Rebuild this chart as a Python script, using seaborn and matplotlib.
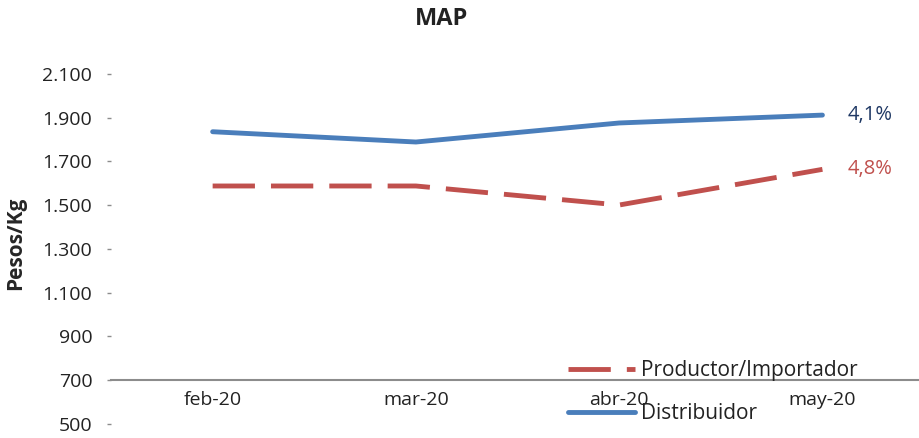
import matplotlib
matplotlib.use('Agg')
import matplotlib.pyplot as plt
import matplotlib.ticker as mticker
import seaborn as sns
import pandas as pd

meses = ['feb-20', 'mar-20', 'abr-20', 'may-20']
productor = [1587, 1587, 1500, 1663]
distribuidor = [1835, 1788, 1875, 1911]
series = ['Productor/Importador', 'Distribuidor']
variaciones = ['4,8%', '4,1%']
y_ticks = [500, 700, 900, 1100, 1300, 1500, 1700, 1900, 2100]

colors = {'Productor/Importador': '#C0504D', 'Distribuidor': '#4A7EBB'}
label_colors = {'Productor/Importador': '#C0504D', 'Distribuidor': '#1F3864'}

df = pd.DataFrame({
    'mes': meses * 2,
    'valor': productor + distribuidor,
    'serie': [series[0]] * len(meses) + [series[1]] * len(meses),
})

sns.set_style('white')
plt.rcParams['font.family'] = ['Open Sans', 'DejaVu Sans']
plt.rcParams['text.color'] = '#222222'
plt.rcParams['xtick.color'] = '#222222'
plt.rcParams['ytick.color'] = '#8c8c8c'
plt.rcParams['ytick.labelcolor'] = '#222222'

fig = plt.figure(figsize=(9.19, 4.38), dpi=100)
ax = fig.add_axes([0.1208, 0.0324, 0.8847, 0.8242])

sns.lineplot(data=df, x='mes', y='valor', hue='serie', style='serie',
             palette=colors, dashes={series[0]: (8.7, 3.3), series[1]: ''},
             linewidth=3.5, sort=False, ax=ax)

ax.set_xlim(-0.5, 3.5)
ax.set_ylim(500, 2150)
ax.set_yticks(y_ticks)
ax.yaxis.set_major_formatter(mticker.FuncFormatter(lambda v, p: f'{v:,.0f}'.replace(',', '.')))

for s in ['top', 'right', 'left']:
    ax.spines[s].set_visible(False)
ax.spines['bottom'].set_position(('data', 700))
ax.spines['bottom'].set_color('#8c8c8c')
ax.spines['bottom'].set_linewidth(1.5)

ax.tick_params(axis='y', direction='out', length=3, width=1,
               pad=10.5, labelsize=14, left=True)
ax.tick_params(axis='x', which='major', length=0, pad=8, labelsize=14)
ax.set_xticks([-0.5, 0.5, 1.5, 2.5], minor=True)
ax.tick_params(axis='x', which='minor', direction='out', length=4, width=1, color='#8c8c8c')

ax.set_xlabel('')
ax.set_ylabel('Pesos/Kg', fontsize=15, fontweight='bold')
ax.yaxis.set_label_coords(-0.105, 0.5)
fig.suptitle('MAP', fontsize=17, fontweight='bold', x=0.48, y=0.985)

# variacion labels at the last month
finales = [productor[-1], distribuidor[-1]]
for serie, val, txt in zip(series, finales, variaciones):
    ax.annotate(txt, xy=(meses[-1], val), xytext=(18, 0), textcoords='offset points',
                ha='left', va='center', fontsize=14.5, color=label_colors[serie])

handles, labels = ax.get_legend_handles_labels()
ax.get_legend().remove()
fig.legend(handles, labels, loc='lower left', bbox_to_anchor=(0.607, 0.008),
           frameon=False, fontsize=15, handlelength=3.2, handletextpad=0.3,
           labelspacing=1.05, borderpad=0)

fig.savefig('out.png', dpi=100)
